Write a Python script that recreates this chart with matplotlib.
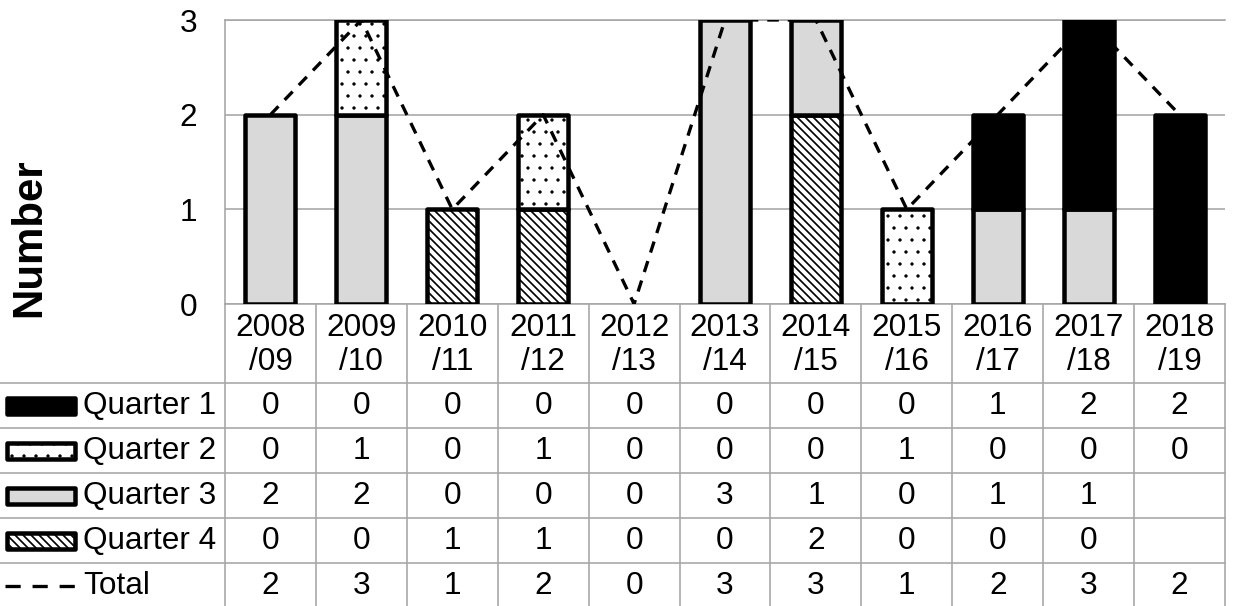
import matplotlib.pyplot as plt
import numpy as np
from matplotlib.patches import Rectangle
from matplotlib.lines import Line2D
from matplotlib import transforms

plt.rcParams['font.family'] = ['Liberation Sans', 'DejaVu Sans']

# seasons and counts per quarter (None = blank cell in the table)
seasons = ['2008\n/09', '2009\n/10', '2010\n/11', '2011\n/12', '2012\n/13', '2013\n/14',
           '2014\n/15', '2015\n/16', '2016\n/17', '2017\n/18', '2018\n/19']
q1 = [0, 0, 0, 0, 0, 0, 0, 0, 1, 2, 2]
q2 = [0, 1, 0, 1, 0, 0, 0, 1, 0, 0, 0]
q3 = [2, 2, 0, 0, 0, 3, 1, 0, 1, 1, None]
q4 = [0, 0, 1, 1, 0, 0, 2, 0, 0, 0, None]
total = [2, 3, 1, 2, 0, 3, 3, 1, 2, 3, 2]

row_names = ['Quarter 1', 'Quarter 2', 'Quarter 3', 'Quarter 4', 'Total']

GRID = '#A6A6A6'
FS = 31.5          # at 72 dpi, 1 pt == 1 px
EDGE = 4.5
DASH_LW = 3.3
W, H = 1235, 606

fig = plt.figure(figsize=(W / 72, H / 72), dpi=72)


def fx(px):
    return px / W


def fy(py):
    return 1 - py / H


ax = fig.add_axes([fx(225), fy(304), fx(1225) - fx(225), fy(20) - fy(304)])
x = np.arange(len(seasons))

# stacked bars, bottom to top: Q4, Q3, Q2, Q1  (style, hatch line width)
styles = [
    (q4, dict(color='white', hatch='\\\\\\'), 1.7),
    (q3, dict(color='#D9D9D9'), 1.0),
    (q2, dict(color='white', hatch='.'), 0.9),
    (q1, dict(color='black'), 1.0),
]
bottom = np.zeros(len(x))
for vals, st, hlw in styles:
    v = np.array([0 if a is None else a for a in vals], dtype=float)
    m = v > 0
    with plt.rc_context({'hatch.linewidth': hlw}):
        ax.bar(x[m], v[m], bottom=bottom[m], width=0.55, edgecolor='black',
               linewidth=EDGE, joinstyle='round', zorder=3, **st)
    bottom += v

ax.plot(x, total, color='black', lw=DASH_LW, ls=(0, (3.5, 2.7)), zorder=5)

ax.set_xlim(-0.5, len(x) - 0.5)
ax.set_ylim(0, 3)
ax.set_yticks([0, 1, 2, 3])
ax.set_xticks([])
ax.tick_params(axis='y', length=0, pad=28, labelsize=FS)
ax.yaxis.grid(True, color=GRID, lw=1.6, zorder=0)
for side in ['left', 'top', 'bottom']:
    ax.spines[side].set_color(GRID)
    ax.spines[side].set_linewidth(1.6)
ax.spines['right'].set_visible(False)

fig.text(fx(29), fy(238), 'Number', rotation=90, ha='center', va='center',
         fontsize=42, fontweight='bold')

# data table under the plot
blend = transforms.blended_transform_factory(ax.transData, fig.transFigure)
right = ax.get_position().x1
row_lines = [383, 428, 473, 518, 563]
for yy in row_lines:
    fig.add_artist(Line2D([0, right], [fy(yy), fy(yy)], color=GRID, lw=1.6))
for xb in np.arange(len(x) + 1) - 0.5:
    fig.add_artist(Line2D([xb, xb], [fy(304), 0], color=GRID, lw=1.6,
                          transform=blend))

for i, s in enumerate(seasons):
    fig.text(i, fy(345), s, transform=blend, ha='center', va='center',
             fontsize=FS, linespacing=1.18)

rows = [q1, q2, q3, q4, total]
centers = [406, 451, 496, 541, 586]
for vals, cy in zip(rows, centers):
    for i, v in enumerate(vals):
        if v is None:
            continue
        fig.text(i, fy(cy), str(v), transform=blend, ha='center', va='center',
                 fontsize=FS)

for name, cy in zip(row_names, centers):
    fig.text(fx(83), fy(cy), name, ha='left', va='center', fontsize=FS)

# legend keys in the table's first column
key_styles = [
    (dict(facecolor='black'), 1.0),
    (dict(facecolor='white', hatch='.'), 0.9),
    (dict(facecolor='#D9D9D9'), 1.0),
    (dict(facecolor='white', hatch='\\\\\\'), 1.7),
]
for (st, hlw), cy in zip(key_styles, centers[:4]):
    with plt.rc_context({'hatch.linewidth': hlw}):
        fig.add_artist(Rectangle((fx(7), fy(cy + 8)), fx(75) - fx(7),
                                 fy(cy - 8) - fy(cy + 8), edgecolor='black',
                                 linewidth=EDGE, joinstyle='round',
                                 transform=fig.transFigure, **st))
fig.add_artist(Line2D([fx(5), fx(77)], [fy(centers[4]), fy(centers[4])],
                      color='black', lw=DASH_LW, ls=(0, (4.6, 3.6))))

fig.savefig('out.png', dpi=72)
